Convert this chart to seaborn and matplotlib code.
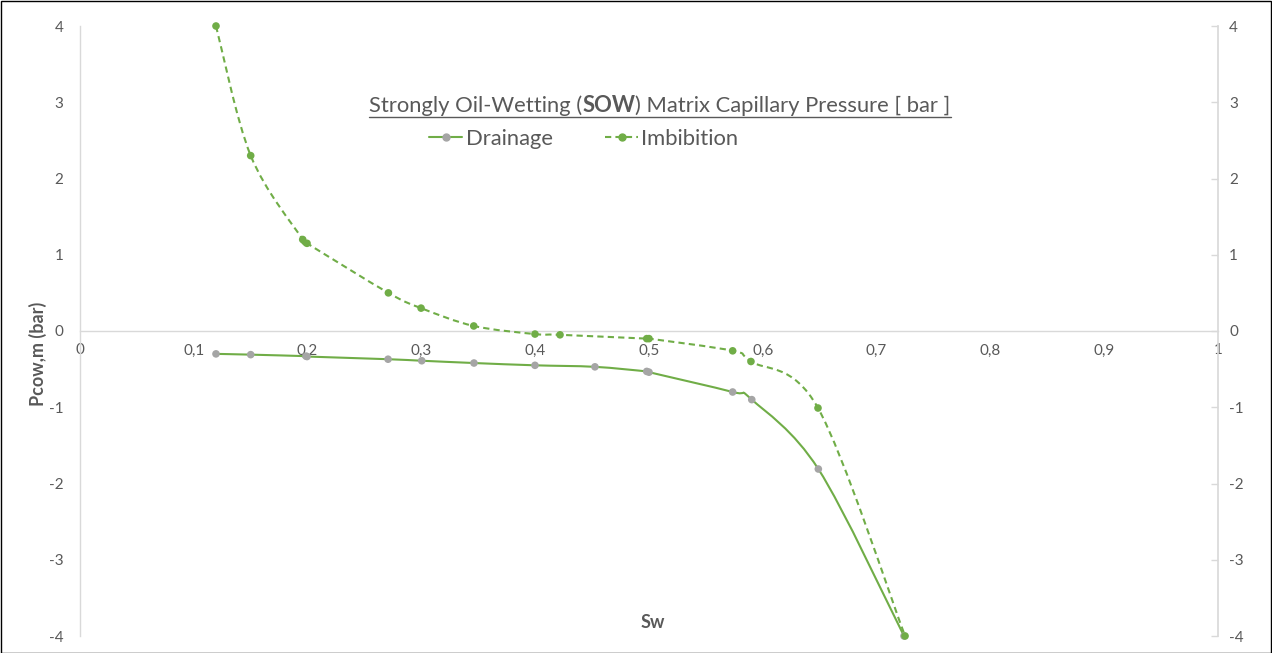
import numpy as np
import pandas as pd
import matplotlib
matplotlib.use("Agg")
import matplotlib.pyplot as plt
import seaborn as sns
from matplotlib.path import Path
from matplotlib.patches import PathPatch
from matplotlib.lines import Line2D

# Saturation / capillary pressure tables
drain_sw = [0.1195, 0.150, 0.1986, 0.1995, 0.2707, 0.3003, 0.3462, 0.3998, 0.4525,
            0.498, 0.500, 0.5735, 0.5903, 0.6488, 0.7241]
drain_pc = [-0.30, -0.31, -0.33, -0.335, -0.37, -0.39, -0.42, -0.45, -0.47,
            -0.53, -0.54, -0.80, -0.90, -1.81, -4.0]

imb_sw = [0.1195, 0.150, 0.1957, 0.1995, 0.271, 0.2997, 0.346, 0.3998, 0.4218,
          0.498, 0.500, 0.5735, 0.5896, 0.6485, 0.725]
imb_pc = [4.0, 2.30, 1.20, 1.15, 0.50, 0.30, 0.066, -0.04, -0.05,
          -0.10, -0.10, -0.26, -0.40, -1.01, -4.0]

x_ticks = [0, 0.1, 0.2, 0.3, 0.4, 0.5, 0.6, 0.7, 0.8, 0.9, 1.0]
x_tick_labels = ["0", "0,1", "0,2", "0,3", "0,4", "0,5", "0,6", "0,7", "0,8", "0,9", "1"]
y_ticks = [-4, -3, -2, -1, 0, 1, 2, 3, 4]

GREEN = "#70AD47"
GREY_MK = "#A5A5A5"
TXT = "#595959"
AX = "#D9D9D9"
DASH = (0, (3, 2))

sns.set_theme(style="white")
plt.rcParams["font.family"] = ["Lato", "DejaVu Sans"]

W, H = 1272, 653
fig = plt.figure(figsize=(W / 100, H / 100), dpi=100)
ax = fig.add_axes([80 / W, 1 - 636 / H, (1218 - 80) / W, (636 - 26) / H])


def smooth_path(xs, ys):
    """Cubic Bezier path through the points (Catmull-Rom style tangents)."""
    p = np.column_stack([xs, ys])
    n = len(p)
    verts = [p[0]]
    codes = [Path.MOVETO]
    for i in range(n - 1):
        p0 = p[i - 1] if i > 0 else p[i]
        p1, p2 = p[i], p[i + 1]
        p3 = p[i + 2] if i + 2 < n else p[i + 1]
        c1 = p1 + (p2 - p0) / 6.0
        c2 = p2 - (p3 - p1) / 6.0
        verts += [c1, c2, p2]
        codes += [Path.CURVE4] * 3
    return Path(verts, codes)


ax.add_patch(PathPatch(smooth_path(drain_sw, drain_pc), fill=False,
                       edgecolor=GREEN, lw=1.5, zorder=3, clip_on=False))
ax.add_patch(PathPatch(smooth_path(imb_sw, imb_pc), fill=False,
                       edgecolor=GREEN, lw=1.5, linestyle=DASH, zorder=3,
                       clip_on=False))

df_d = pd.DataFrame({"Sw": drain_sw, "Pc": drain_pc})
df_i = pd.DataFrame({"Sw": imb_sw, "Pc": imb_pc})
sns.scatterplot(data=df_d, x="Sw", y="Pc", ax=ax, color=GREY_MK, s=30,
                edgecolor="none", zorder=4, legend=False, clip_on=False)
sns.scatterplot(data=df_i, x="Sw", y="Pc", ax=ax, color=GREEN, s=30,
                edgecolor="none", zorder=4, legend=False, clip_on=False)

ax.set_xlim(0, 1)
ax.set_ylim(-4, 4)
ax.set_xticks(x_ticks)
ax.set_xticklabels(x_tick_labels)
ax.set_yticks(y_ticks)
ax.set_yticklabels([str(v) for v in y_ticks])

for s in ["top", "right"]:
    ax.spines[s].set_visible(False)
ax.spines["bottom"].set_position(("data", 0))
ax.spines["bottom"].set_color(AX)
ax.spines["left"].set_color(AX)
ax.spines["bottom"].set_linewidth(1.0)
ax.spines["left"].set_linewidth(1.0)
ax.tick_params(axis="x", length=0, pad=9, labelsize=11, labelcolor=TXT)
ax.tick_params(axis="y", length=0, pad=12, labelsize=11, labelcolor=TXT)

ax.set_xlabel("")
ax.set_ylabel("")
fig.text(653 / W, 1 - 622 / H, "Sw", ha="center", va="center",
         fontsize=13, fontweight="bold", color=TXT)
fig.text(38 / W, 1 - 354 / H, "Pcow,m (bar)", ha="center", va="center",
         rotation=90, fontsize=13, fontweight="bold", color=TXT)

# secondary axis on the right
ax2 = ax.twinx()
ax2.set_ylim(-4, 4)
ax2.set_yticks(y_ticks)
ax2.set_yticklabels([str(v) for v in y_ticks])
for s in ["top", "left", "bottom"]:
    ax2.spines[s].set_visible(False)
ax2.spines["right"].set_color(AX)
ax2.tick_params(axis="y", direction="in", length=5, width=1, color=AX,
                pad=8, labelsize=11, labelcolor=TXT)
ax2.grid(False)
ax.grid(False)

# title built from pieces so the abbreviation can be bold, then underlined
renderer = fig.canvas.get_renderer()
parts = [("Strongly Oil-Wetting (", "normal"), ("SOW", "bold"),
         (") Matrix Capillary Pressure [ bar ]", "normal")]
texts = []
for s, w in parts:
    t = fig.text(0, 1 - 112 / H, s, fontsize=15.8, fontweight=w, color=TXT,
                 ha="left", va="baseline")
    texts.append(t)
widths = [t.get_window_extent(renderer).width for t in texts]
total = sum(widths)
x0 = 660 - total / 2
cur = x0
for t, wd in zip(texts, widths):
    t.set_x(cur / W)
    cur += wd
fig.add_artist(Line2D([x0 / W, (x0 + total) / W], [1 - 117 / H, 1 - 117 / H],
                      color=TXT, lw=1.0))

handles = [
    Line2D([], [], color=GREEN, lw=1.5, marker="o", markersize=5,
           markerfacecolor=GREY_MK, markeredgecolor=GREY_MK),
    Line2D([], [], color=GREEN, lw=1.5, linestyle=DASH, marker="o",
           markersize=5, markerfacecolor=GREEN, markeredgecolor=GREEN),
]
fig.legend(handles, ["Drainage", "Imbibition"], loc="center",
           bbox_to_anchor=(584 / W, 1 - 139 / H), ncol=2, frameon=False,
           fontsize=15.8, labelcolor=TXT, handlelength=1.5, handletextpad=0.15,
           columnspacing=2.4)

# outer frame
fig.add_artist(plt.Rectangle((0.5 / W, 0.5 / H), 1 - 1.5 / W, 1 - 1.5 / H,
                             transform=fig.transFigure, fill=False,
                             edgecolor="black", lw=1.0))

fig.savefig("out.png", dpi=100)
